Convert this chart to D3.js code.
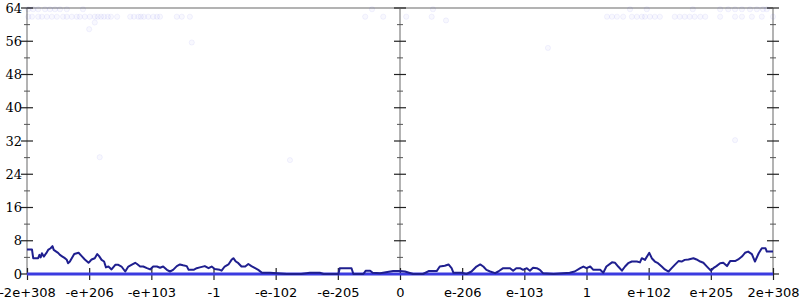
<!DOCTYPE html>
<html>
<head>
<meta charset="utf-8">
<script src="https://cdn.jsdelivr.net/npm/d3@7"></script>
<style>
  body { margin: 0; background: #fff; }
  svg { display: block; }
</style>
</head>
<body>
<div id="chart"></div>
<script>
// tick labels along the x axis, one per unit from -6 to 6
const xTickLabels = ["-2e+308", "-e+206", "-e+103", "-1", "-e-102", "-e-205", "0",
                     "e-206", "e-103", "1", "e+102", "e+205", "2e+308"];
const yTicks = [0, 8, 16, 24, 32, 40, 48, 56, 64];

// the dark running line (x in axis units, y = count)
const lineX = [-6.00, -5.92, -5.90, -5.82, -5.80, -5.78, -5.76, -5.73, -5.69, -5.66, -5.62, -5.59, -5.57, -5.53,
  -5.50, -5.47, -5.43, -5.39, -5.36, -5.34, -5.31, -5.28, -5.24, -5.17, -5.12, -5.07, -5.01, -4.99, -4.96,
  -4.91, -4.87, -4.84, -4.80, -4.76, -4.73, -4.69, -4.64, -4.58, -4.53, -4.48, -4.42, -4.37, -4.32, -4.26,
  -4.23, -4.18, -4.13, -4.07, -4.02, -3.97, -3.91, -3.86, -3.81, -3.75, -3.70, -3.65, -3.59, -3.54, -3.49,
  -3.43, -3.40, -3.32, -3.27, -3.22, -3.14, -3.08, -3.03, -2.98, -2.90, -2.87, -2.82, -2.76, -2.71, -2.68,
  -2.64, -2.60, -2.55, -2.49, -2.44, -2.39, -2.33, -2.28, -2.22, -2.17, -2.09, -1.98, -1.82, -1.61, -1.59,
  -1.45, -1.29, -1.23, -0.99, -0.97, -0.78, -0.75, -0.59, -0.55, -0.48, -0.44, -0.32, -0.11, 0.00,
  0.08, 0.21, 0.37, 0.46, 0.59, 0.64, 0.72, 0.78, 0.83, 0.86, 0.99, 1.07, 1.15, 1.23, 1.29, 1.34, 1.39,
  1.45, 1.53, 1.58, 1.66, 1.77, 1.82, 1.87, 1.93, 1.98, 2.04, 2.09, 2.14, 2.20, 2.25, 2.30, 2.47, 2.73,
  2.81, 2.90, 2.95, 3.00, 3.06, 3.11, 3.22, 3.27, 3.32, 3.41, 3.46, 3.51, 3.57, 3.62, 3.67, 3.73, 3.81,
  3.86, 3.89, 3.94, 4.01, 4.05, 4.10, 4.15, 4.21, 4.26, 4.32, 4.37, 4.42, 4.48, 4.53, 4.58, 4.64, 4.72,
  4.77, 4.83, 4.88, 4.93, 5.00, 5.04, 5.09, 5.15, 5.20, 5.26, 5.31, 5.39, 5.44, 5.50, 5.55, 5.60, 5.66,
  5.71, 5.77, 5.82, 5.88, 5.90, 6.00];
const lineY = [5.9, 5.9, 3.8, 3.8, 4.6, 4.0, 5.0, 4.2, 5.0, 5.8, 6.2, 6.7, 5.8, 5.4,
  5.1, 4.6, 4.2, 3.8, 3.4, 2.6, 3.0, 3.8, 4.8, 5.1, 4.3, 3.5, 2.7, 3.0, 3.5,
  3.8, 4.8, 4.3, 3.4, 3.0, 1.6, 1.8, 1.1, 2.2, 2.2, 1.8, 0.6, 1.8, 2.2, 2.7,
  2.4, 1.8, 1.8, 1.4, 1.1, 1.8, 1.8, 1.5, 1.8, 1.0, 0.6, 1.0, 1.9, 2.3, 2.1,
  1.9, 1.0, 1.0, 1.4, 1.6, 1.9, 1.4, 1.8, 1.2, 1.0, 0.8, 1.8, 2.3, 3.4, 3.8,
  3.0, 2.6, 1.8, 1.8, 2.4, 1.9, 1.4, 1.0, 0.3, 0.3, 0.3, 0.2, 0.0, 0.0, 0.0,
  0.3, 0.3, 0.0, 0.0, 1.4, 1.4, 0.0, 0.0, 0.8, 0.8, 0.3, 0.2, 0.7, 0.7,
  0.6, 0.0, 0.0, 0.7, 0.7, 1.8, 2.0, 2.3, 1.4, 0.3, 0.3, 0.0, 0.6, 1.8, 2.3, 1.8, 1.0,
  0.6, 0.2, 0.6, 1.4, 1.4, 0.8, 1.4, 1.4, 1.0, 1.4, 0.8, 1.5, 1.4, 1.0, 0.2, 0.0, 0.3,
  0.6, 1.4, 1.8, 1.4, 1.8, 1.0, 1.0, 0.3, 1.8, 2.8, 2.7, 1.8, 0.8, 1.8, 2.6, 3.0, 3.0,
  2.8, 3.8, 3.4, 5.1, 3.8, 3.0, 2.6, 1.8, 1.1, 0.6, 1.4, 2.2, 3.1, 3.0, 3.4, 3.5, 3.8,
  3.5, 3.0, 2.7, 1.9, 0.8, 1.4, 1.9, 2.6, 2.7, 1.9, 3.1, 3.1, 3.5, 4.2, 5.1, 5.4, 4.8,
  3.0, 5.0, 6.2, 6.2, 5.4, 5.4];

// the faint sample points
const zeroRowX = [-6, 6];
const topRowX = [-5.98, -5.90, -5.82, -5.71, -5.63, -5.55, -5.47, -5.36, -5.10, -0.45, 0.53,
  3.70, 3.97, 4.71, 5.15, 5.28, 5.39, 5.50, 5.63, 5.74, 5.84, 5.90];
const upperRowX = [-5.98, -5.92, -5.82, -5.76, -5.68, -5.60, -5.52, -5.42, -5.36, -5.28, -5.20, -5.15,
  -5.07, -4.99, -4.91, -4.86, -4.81, -4.76, -4.70, -4.65, -4.55, -4.34, -4.28, -4.21, -4.17, -4.12,
  -4.05, -3.97, -3.91, -3.86, -3.59, -3.51, -3.38, -0.56, -0.27, 0.10, 0.51,
  3.33, 3.41, 3.49, 3.59, 3.73, 3.81, 3.89, 3.94, 4.02, 4.10, 4.18, 4.42, 4.50, 4.58, 4.66, 4.74,
  4.83, 4.91, 5.15, 5.39, 5.50, 5.66, 5.82, 6.00];
const strayX = [-5.00, -4.91, -3.35, 2.38, -4.83, -1.77, 5.39, 0.74];
const strayY = [58.9, 60.5, 55.7, 54.4, 28.1, 27.4, 32.2, 61.0];

const width = 800, height = 300;
const margin = {top: 8, right: 27, bottom: 26, left: 27};

const svg = d3.select("#chart").append("svg")
  .attr("width", width)
  .attr("height", height);

const x = d3.scaleLinear().domain([-6, 6]).range([margin.left, width - margin.right]);
const y = d3.scaleLinear().domain([0, 64]).range([height - margin.bottom, margin.top]);

const axisColor = "#b3b3b3";

// frame lines: top edge, bottom edge, left/middle/right vertical axes
svg.append("line")
  .attr("x1", x(-6)).attr("x2", x(6)).attr("y1", y(64)).attr("y2", y(64))
  .attr("stroke", axisColor).attr("stroke-width", 2);
svg.append("line")
  .attr("x1", x(-6)).attr("x2", x(6)).attr("y1", y(0)).attr("y2", y(0))
  .attr("stroke", axisColor).attr("stroke-width", 2);
[-6, 0, 6].forEach(v => {
  svg.append("line")
    .attr("x1", x(v)).attr("x2", x(v)).attr("y1", y(64)).attr("y2", y(0))
    .attr("stroke", axisColor).attr("stroke-width", 2);
});

// y ticks on the three vertical axes (major crossing, minor in between)
const minorY = d3.range(4, 64, 8);
[-6, 0, 6].forEach(v => {
  const g = svg.append("g");
  g.selectAll(".maj").data(yTicks).enter().append("line")
    .attr("x1", x(v) - 6).attr("x2", x(v) + 6)
    .attr("y1", d => y(d)).attr("y2", d => y(d))
    .attr("stroke", "#222").attr("stroke-width", 1.2);
  g.selectAll(".min").data(minorY).enter().append("line")
    .attr("x1", x(v) - 3).attr("x2", x(v) + 3)
    .attr("y1", d => y(d)).attr("y2", d => y(d))
    .attr("stroke", "#555").attr("stroke-width", 1);
});

// y labels on the left
svg.append("g").selectAll("text").data(yTicks).enter().append("text")
  .attr("x", x(-6) - 5)
  .attr("y", d => y(d))
  .attr("dy", "0.36em")
  .attr("text-anchor", "end")
  .attr("font-family", "DejaVu Serif")
  .attr("font-size", 13)
  .attr("fill", "#000")
  .text(d => d);

// x ticks and labels
const xAxis = d3.axisBottom(x)
  .tickValues(d3.range(-6, 7))
  .tickFormat((d, i) => xTickLabels[i])
  .tickSize(6)
  .tickPadding(8);
const gx = svg.append("g")
  .attr("transform", "translate(0," + y(0) + ")")
  .call(xAxis);
gx.select(".domain").remove();
gx.selectAll(".tick line").attr("y1", -6).attr("stroke", "#222").attr("stroke-width", 1.2);
gx.selectAll(".tick text")
  .attr("font-family", "DejaVu Sans")
  .attr("font-size", 13)
  .attr("fill", "#000");

// faint sample dots
const dotColor = "#3030e0";
function dots(xs, ys) {
  svg.append("g").selectAll("circle").data(xs).enter().append("circle")
    .attr("cx", d => x(d))
    .attr("cy", (d, i) => y(ys(i)))
    .attr("r", 2.6)
    .attr("fill", dotColor).attr("fill-opacity", 0.035)
    .attr("stroke", dotColor).attr("stroke-opacity", 0.06);
}
dots(topRowX, () => 63.7);
dots(upperRowX, () => 61.9);
dots(strayX, i => strayY[i]);

// the dense row of samples at zero
svg.append("path")
  .datum(zeroRowX)
  .attr("d", d3.line().x(d => x(d)).y(() => y(0)))
  .attr("fill", "none")
  .attr("stroke", "#3b3be0")
  .attr("stroke-width", 3);

// running line
const pts = lineX.map((v, i) => [v, lineY[i]]);
svg.append("path")
  .datum(pts)
  .attr("d", d3.line().x(d => x(d[0])).y(d => y(d[1])))
  .attr("fill", "none")
  .attr("stroke", "#1f1f8f")
  .attr("stroke-width", 2)
  .attr("stroke-linejoin", "round");
</script>
</body>
</html>
